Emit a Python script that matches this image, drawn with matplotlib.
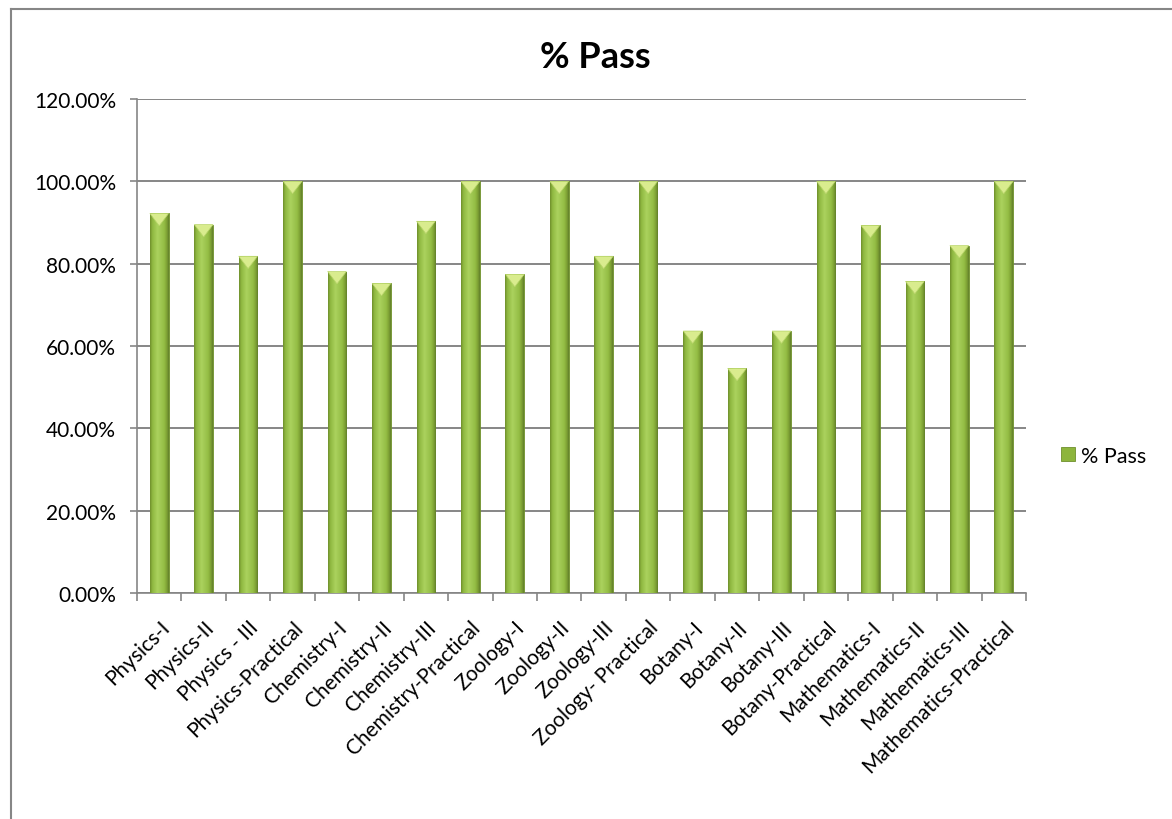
import numpy as np
import matplotlib.pyplot as plt
from matplotlib.patches import Polygon
from matplotlib.lines import Line2D
from matplotlib.colors import to_rgb
from matplotlib.ticker import FuncFormatter, MultipleLocator

plt.rcParams['font.family'] = ['Lato', 'DejaVu Sans']

subjects = ['Physics-I', 'Physics-II', 'Physics - III', 'Physics-Practical',
            'Chemistry-I', 'Chemistry-II', 'Chemistry-III', 'Chemistry-Practical',
            'Zoology-I', 'Zoology-II', 'Zoology-III', 'Zoology- Practical',
            'Botany-I', 'Botany-II', 'Botany-III', 'Botany-Practical',
            'Mathematics-I', 'Mathematics-II', 'Mathematics-III', 'Mathematics-Practical']
pass_pct = [92.2, 89.5, 81.8, 100, 78.1, 75.2, 90.3, 100,
            77.4, 100, 81.8, 100, 63.64, 54.55, 63.64, 100,
            89.3, 75.7, 84.4, 100]

fig = plt.figure(figsize=(11.72, 8.2), dpi=100)
ax = fig.add_axes([0.1169, 0.2756, 0.7585, 0.6024])

x = np.arange(len(subjects))
w = 0.42
bars = ax.bar(x, pass_pct, width=w, color='#8db53c', edgecolor='#6e8f2c',
              linewidth=0.6, zorder=3, label='% Pass')

# horizontal shading across each bar (bevel look)
stops = [0.0, 0.12, 0.4, 0.75, 0.9, 1.0]
cols = np.array([to_rgb(c) for c in ['#6f8f2c', '#8fb840', '#abd25e',
                                     '#94bd45', '#7da034', '#62802a']])
t = np.linspace(0, 1, 64)
grad = np.stack([np.interp(t, stops, cols[:, k]) for k in range(3)], axis=-1)[None, :, :]

for b in bars:
    bx, bw, bh = b.get_x(), b.get_width(), b.get_height()
    im = ax.imshow(grad, extent=[bx, bx + bw, 0, bh], aspect='auto',
                   interpolation='bilinear', zorder=4)
    im.set_clip_path(b)
    ax.add_patch(Polygon([(bx, bh), (bx + bw, bh), (bx + bw / 2, bh - 3.0)],
                         closed=True, facecolor='#d9ec8e', edgecolor='#b9d56a',
                         lw=0.5, zorder=5))

ax.set_ylim(0, 120)
ax.set_xlim(-0.5, len(subjects) - 0.5)
ax.yaxis.set_major_locator(MultipleLocator(20))
ax.yaxis.set_major_formatter(FuncFormatter(lambda v, p: '%.2f%%' % v))
ax.grid(axis='y', color='#868686', linewidth=1.4, zorder=0)
ax.set_axisbelow(True)

ax.set_xticks(x)
ax.set_xticklabels(subjects, rotation=45, ha='right', va='top',
                   rotation_mode='anchor')
ax.set_xticks(np.arange(len(subjects) + 1) - 0.5, minor=True)
ax.tick_params(axis='x', which='major', length=0, labelsize=15, pad=17)
ax.tick_params(axis='x', which='minor', length=6, color='#868686', width=1.2)
ax.tick_params(axis='y', length=5, color='#868686', width=1.2, labelsize=15, pad=10)

for s in ['top', 'right']:
    ax.spines[s].set_visible(False)
for s in ['left', 'bottom']:
    ax.spines[s].set_color('#868686')
    ax.spines[s].set_linewidth(1.2)

fig.text(0.508, 0.930, '% Pass', ha='center', va='center', fontsize=26,
         fontweight='bold')

fig.legend(handles=[bars[0]], labels=['% Pass'], loc='center left',
           bbox_to_anchor=(0.905, 0.443), frameon=False, fontsize=15.5,
           handlelength=0.65, handleheight=0.65, handletextpad=0.3,
           borderaxespad=0, borderpad=0)

# chart border (only left and top edges are inside the picture)
fig.add_artist(Line2D([11 / 1172, 1], [1 - 10 / 820, 1 - 10 / 820],
                      transform=fig.transFigure, color='#868686', lw=1.5))
fig.add_artist(Line2D([11 / 1172, 11 / 1172], [0, 1 - 10 / 820],
                      transform=fig.transFigure, color='#868686', lw=1.5))

fig.savefig('out.png', dpi=100)
